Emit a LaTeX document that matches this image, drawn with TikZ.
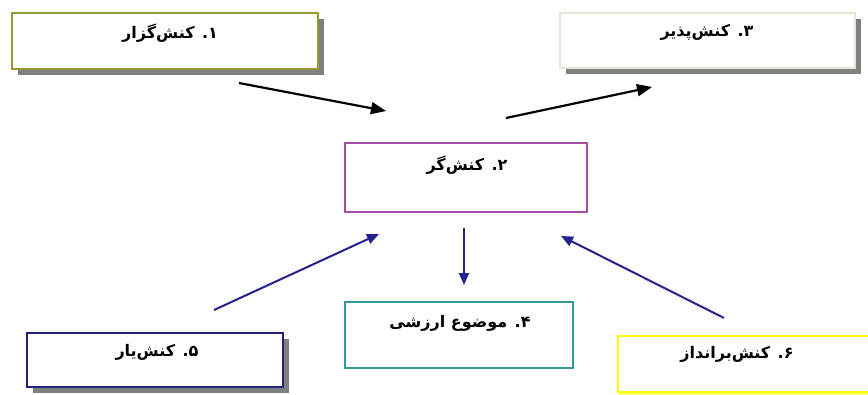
\documentclass[tikz,border=0pt]{standalone}
\usepackage{fontspec}
\TeXXeTstate=1
\newfontfamily\fafont[Script=Arabic]{DejaVu Sans}
\usetikzlibrary{arrows.meta,shadows}
\definecolor{olivebd}{HTML}{999933}
\definecolor{beigebd}{HTML}{E6E6D6}
\definecolor{purplebd}{HTML}{A64CA6}
\definecolor{tealbd}{HTML}{339999}
\definecolor{navybd}{HTML}{22227A}
\definecolor{yellowbd}{HTML}{FFFF00}
\definecolor{arrnavy}{HTML}{23238F}
\definecolor{shadowgray}{HTML}{808080}
\tikzset{
  box/.style={draw, line width=1.2pt, fill=white, inner sep=0pt},
  shad/.style={drop shadow={shadow xshift=6pt, shadow yshift=-6pt, fill=shadowgray, opacity=1}},
  lbl/.style={font=\fafont\bfseries\fontsize{16}{18}\selectfont, inner sep=0pt},
  blackarrow/.style={line width=2.2pt, black, -{Triangle[length=15pt,width=12pt]}},
  navyarrow/.style={line width=2pt, arrnavy, -{Triangle[length=12pt,width=10pt]}}
}
\begin{document}
\begin{tikzpicture}[x=1pt,y=-1pt]
\clip (0,0) rectangle (868,394);
\fill[white] (0,0) rectangle (868,394);
% boxes
\node[box, shad, draw=olivebd, minimum width=306pt, minimum height=56pt] (b1) at (165,41) {};
\node[box, shad, draw=beigebd, minimum width=295pt, minimum height=55pt] (b3) at (707.5,40.5) {};
\node[box, draw=purplebd, minimum width=242pt, minimum height=69pt] (b2) at (466,177.5) {};
\node[box, draw=tealbd, minimum width=228pt, minimum height=66pt] (b4) at (459,335) {};
\node[box, shad, draw=navybd, minimum width=256pt, minimum height=54pt] (b5) at (155,360) {};
\node[box, drop shadow={shadow xshift=0pt, shadow yshift=-3pt, fill=yellowbd!60!white, opacity=1}, draw=yellowbd, minimum width=262pt, minimum height=56pt] (b6) at (749,364) {};
% labels
\node[lbl] (t1) at (170,33) {\beginR ۱. کنش‌گزار\endR};
\node[lbl] (t3) at (707,32) {\beginR ۳. کنش‌پذیر\endR};
\node[lbl] (t2) at (467,165) {\beginR ۲. کنش‌گر\endR};
\node[lbl] (t4) at (460,323) {\beginR ۴. موضوع ارزشی\endR};
\node[lbl] (t5) at (157,352) {\beginR ۵. کنش‌یار\endR};
\node[lbl] (t6) at (737,354) {\beginR ۶. کنش‌برانداز\endR};
% arrow end points
\coordinate (a1s) at (239,83);  \coordinate (a1e) at (386,111);
\coordinate (a2s) at (506,118); \coordinate (a2e) at (652,87);
\coordinate (a3s) at (464,228); \coordinate (a3e) at (464,285);
\coordinate (a4s) at (214,310); \coordinate (a4e) at (379,234);
\coordinate (a5s) at (724,318); \coordinate (a5e) at (561,236);
\draw[blackarrow] (a1s) -- (a1e);
\draw[blackarrow] (a2s) -- (a2e);
\draw[navyarrow] (a3s) -- (a3e);
\draw[navyarrow] (a4s) -- (a4e);
\draw[navyarrow] (a5s) -- (a5e);
\end{tikzpicture}
\end{document}
